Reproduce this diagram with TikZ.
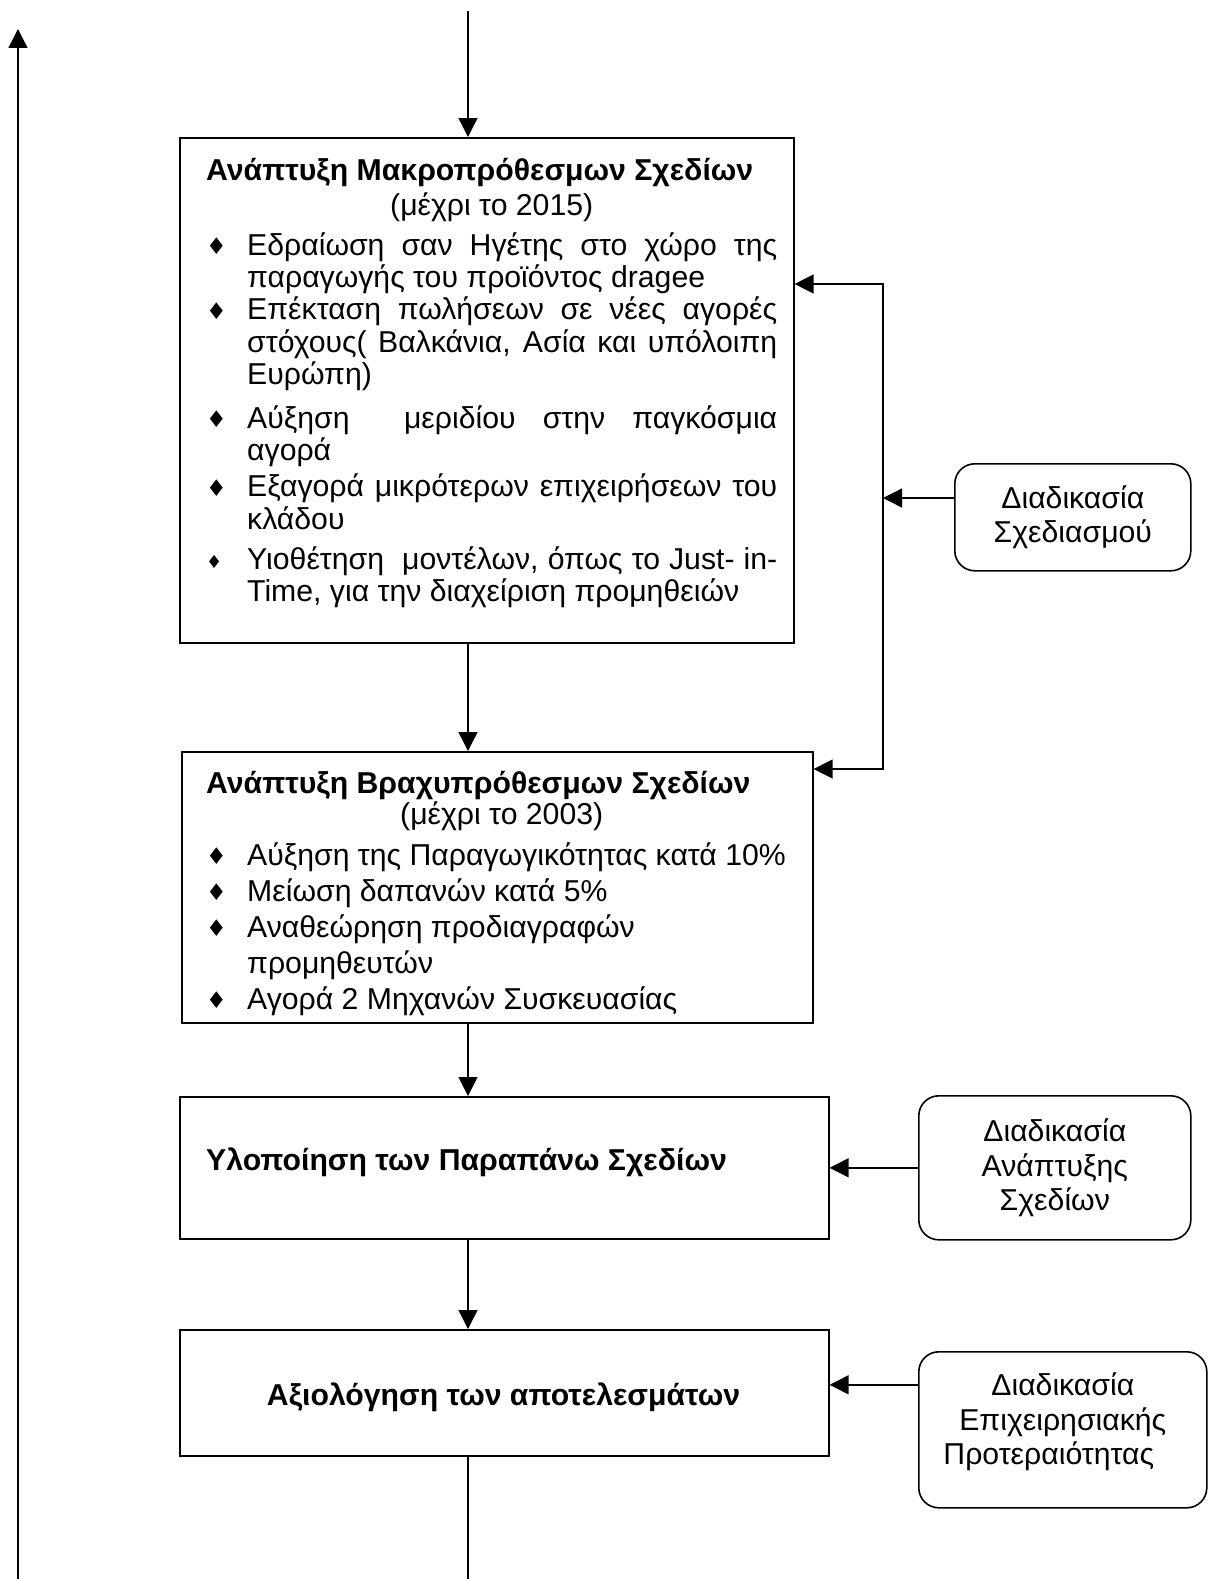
\documentclass[tikz,border=0pt]{standalone}
\usepackage{fontspec}
\setmainfont{Liberation Sans}
\newfontfamily\dejavu{DejaVu Sans}
\usetikzlibrary{arrows.meta}

% bullet glyph and list lines (justified / left-aligned)
\newcommand\Bul[1][23]{\makebox[41pt][l]{\raisebox{0.5pt}{\dejavu\fontsize{#1}{#1}\selectfont ♦}}}
\newcommand\BulJ[2][23]{\hbox{\Bul[#1]\makebox[530pt][s]{#2}}}
\newcommand\BulL[1]{\hbox{\Bul #1}}
\newcommand\ContJ[1]{\hbox{\hspace*{41pt}\makebox[530pt][s]{#1}}}
\newcommand\ContL[1]{\hbox{\hspace*{41pt}#1}}

\begin{document}
\begin{tikzpicture}[x=1pt,y=-1pt,
  font=\fontsize{30.2}{34.5}\selectfont,
  box/.style={draw, line width=1.6pt, inner sep=0pt, anchor=north west},
  rbox/.style={draw, line width=1.6pt, rounded corners=20pt, align=center,
               inner sep=0pt, anchor=north west},
  arr/.style={line width=1.4pt, -{Triangle[length=19pt,width=19pt]}},
  link/.style={line width=1.4pt},
  txt/.style={inner sep=0pt, anchor=base west}]
\useasboundingbox (0,0) rectangle (1212,1579);
\fill[white] (0,0) rectangle (1212,1579);

% main boxes
\node[box, minimum width=614pt, minimum height=505pt] (b1) at (179,137) {};
\node[box, minimum width=631pt, minimum height=271pt] (b2) at (181,751) {};
\node[box, minimum width=649pt, minimum height=142pt] (b3) at (179,1096) {};
\node[box, minimum width=649pt, minimum height=126pt] (b4) at (179,1329) {};

% side process boxes
\node[rbox, minimum width=236pt, minimum height=107pt] (s1) at (954,463) {Διαδικασία\\Σχεδιασμού};
\node[rbox, minimum width=272pt, minimum height=144pt] (s2) at (918,1095) {Διαδικασία\\Ανάπτυξης\\Σχεδίων};
\node[rbox, minimum width=288pt, minimum height=156pt, text depth=22pt] (s3) at (918,1351)
  {Διαδικασία\\Επιχειρησιακής\\Προτεραιότητας\hspace*{28pt}};

% box contents
\node[txt] (t1) at (206,180) {\vtop{\hsize=571pt\baselineskip=32.2pt
  \hbox{\bfseries Ανάπτυξη Μακροπρόθεσμων Σχεδίων}
  \vskip 3pt
  \hbox to \hsize{\hfil(μέχρι το 2015)\hfil}
  \vskip 8pt
  \BulJ{Εδραίωση σαν Ηγέτης στο χώρο της}
  \ContL{παραγωγής του προϊόντος dragee}
  \BulJ{Επέκταση πωλήσεων σε νέες αγορές}
  \ContJ{στόχους( Βαλκάνια, Ασία και υπόλοιπη}
  \ContL{Ευρώπη)}
  \vskip 12pt
  \BulJ{Αύξηση\ \ μεριδίου στην παγκόσμια}
  \ContL{αγορά}
  \vskip 4pt
  \BulJ{Εξαγορά μικρότερων επιχειρήσεων του}
  \ContL{κλάδου}
  \vskip 8pt
  \BulJ[18]{Υιοθέτηση\ \ μοντέλων, όπως το Just- in-}
  \ContL{Time, για την διαχείριση προμηθειών}
}};

\node[txt] (t2) at (206,793) {\vtop{\hsize=591pt\baselineskip=36pt
  \hbox{\bfseries Ανάπτυξη Βραχυπρόθεσμων Σχεδίων}
  \vskip -5pt
  \hbox to \hsize{\hfil(μέχρι το 2003)\hfil}
  \vskip 5pt
  \BulL{Αύξηση της Παραγωγικότητας κατά 10\%}
  \BulL{Μείωση δαπανών κατά 5\%}
  \BulL{Αναθεώρηση προδιαγραφών}
  \ContL{προμηθευτών}
  \BulL{Αγορά 2 Μηχανών Συσκευασίας}
}};

\node[txt] (t3) at (206,1170) {\bfseries Υλοποίηση των Παραπάνω Σχεδίων};
\node[inner sep=0pt, anchor=base] (t4) at (503.5,1405) {\bfseries Αξιολόγηση των αποτελεσμάτων};

% free ends and bends of the connectors
\coordinate (top) at (468,11);
\coordinate (bot) at (468,1579);
\coordinate (lb) at (18,1579);
\coordinate (lt) at (18,29);
\coordinate (l1) at (883,284);
\coordinate (l2) at (883,769);
\coordinate (lj) at (883,498);
\coordinate (s3o) at ([yshift=45pt]s3.west);

% main flow
\draw[arr] (top) -- (b1.north -| top);
\draw[arr] (b1.south -| top) -- (b2.north -| top);
\draw[arr] (b2.south -| top) -- (b3.north -| top);
\draw[arr] (b3.south -| top) -- (b4.north -| top);
\draw[link] (b4.south -| top) -- (bot);

% return line on the left
\draw[arr] (lb) -- (lt);

% planning loop feeding both plan boxes
\draw[line width=1.4pt, {Triangle[length=19pt,width=19pt]}-{Triangle[length=19pt,width=19pt]}]
  (b1.east |- l1) -- (l1) -- (l2) -- (b2.east |- l2);
\draw[arr] (s1.west |- lj) -- (lj);

% side inputs
\draw[arr] (s2.west) -- (b3.east |- s2.west);
\draw[arr] (s3o) -- (b4.east |- s3o);
\end{tikzpicture}
\end{document}
